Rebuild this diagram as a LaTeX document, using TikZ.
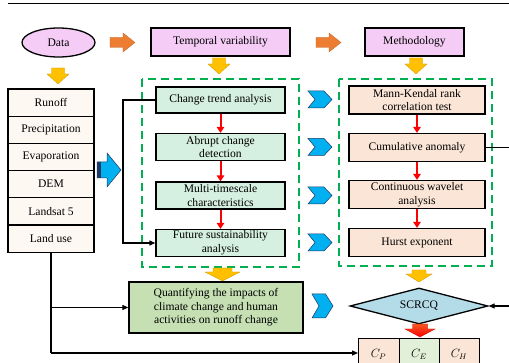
\documentclass[tikz,border=0pt]{standalone}
\usepackage{fontspec}
\setmainfont{Liberation Serif}
\usetikzlibrary{shapes.geometric,arrows.meta}
\definecolor{pinkf}{HTML}{F5CCF5}
\definecolor{creamf}{HTML}{FDF8F1}
\definecolor{mintf}{HTML}{D5EFE0}
\definecolor{peachf}{HTML}{FBE5D6}
\definecolor{olivef}{HTML}{C6E0B4}
\definecolor{skyf}{HTML}{B4DCE8}
\definecolor{lgreenf}{HTML}{E2F0D9}
\definecolor{dashg}{HTML}{00B050}
\definecolor{oarrow}{HTML}{ED7D31}
\definecolor{yarrow}{HTML}{FFC000}
\definecolor{barrow}{HTML}{00B0F0}
\definecolor{bdark}{HTML}{1F3864}
\tikzset{
  txt/.style={font=\fontsize{11.6}{13.6}\selectfont, align=center, inner sep=0pt},
  box/.style={txt, draw=black, line width=1.3pt, rectangle},
  dashbox/.style={draw=dashg, line width=2pt, dash pattern=on 8pt off 5pt},
  redarr/.style={draw=red, line width=2pt, -{Triangle[length=6pt,width=7.5pt]}, shorten >=0pt},
  blk/.style={draw=black, line width=1.1pt},
  blkarr/.style={blk, -{Triangle[length=6pt,width=5pt]}},
  orgarrow/.pic={\path[fill=oarrow, draw=oarrow!80!black, line width=0.3pt]
      (0,-5)--(13,-5)--(13,-9.5)--(25,0)--(13,9.5)--(13,5)--(0,5)--cycle;},
  ydown/.pic={\path[fill=yarrow, draw=yarrow!80!black, line width=0.3pt]
      (-6.5,0)--(6.5,0)--(6.5,6)--(11,6)--(0,16)--(-11,6)--(-6.5,6)--cycle;},
  ywide/.pic={\path[fill=yarrow, draw=yarrow!80!black, line width=0.3pt]
      (-9.5,0)--(9.5,0)--(9.5,4)--(17.5,4)--(0,13)--(-17.5,4)--(-9.5,4)--cycle;},
  ywidesm/.pic={\path[fill=yarrow, draw=yarrow!80!black, line width=0.3pt]
      (-7,0)--(7,0)--(7,4)--(13,4)--(0,12)--(-13,4)--(-7,4)--cycle;},
  rdown/.pic={\path[top color=oarrow!70!red, bottom color=red, draw=red!80!black, line width=0.3pt]
      (-7.5,0)--(7.5,0)--(7.5,5)--(15,5)--(0,13)--(-15,5)--(-7.5,5)--cycle;},
  chev/.pic={\path[fill=barrow, draw=bdark, line width=0.5pt]
      (-12,-8.5)--(4,-8.5)--(12,0)--(4,8.5)--(-12,8.5)--(-5,0)--cycle;},
  chevbig/.pic={\path[fill=barrow, draw=bdark, line width=0.5pt]
      (-10.5,-12)--(3,-12)--(10.5,0)--(3,12)--(-10.5,12)--(-3.5,0)--cycle;},
}
\begin{document}
\begin{tikzpicture}[x=1pt,y=-1pt]
\useasboundingbox (0,0) rectangle (509,363);
\fill[white] (0,0) rectangle (509,363);
\draw[line width=0.8pt] (8,3) -- (509,3);

% top row
\node[txt, ellipse, draw=black, line width=1.3pt, fill=pinkf, minimum width=73pt, minimum height=29pt] (data) at (58.5,42.5) {Data};
\node[box, fill=pinkf, minimum width=139pt, minimum height=28pt] (temp) at (220.5,42) {Temporal variability};
\node[box, fill=pinkf, minimum width=99pt, minimum height=28pt] (meth) at (414.5,42) {Methodology};
\pic at (110,42.5) {orgarrow};
\pic at (316,42.5) {orgarrow};
\pic at (58,68) {ydown};
\pic at (219,58) {ydown};
\pic at (416,58) {ydown};

% data list
\foreach \t [count=\i] in {Runoff,Precipitation,Evaporation,DEM,Landsat 5,Land use}{
  \node[box, fill=creamf, minimum width=86pt, minimum height=27.2pt] (d\i) at (51,{89+27.2*(\i-0.5)}) {\t};
}
% blue block arrow
\path[fill=barrow, draw=bdark, line width=0.5pt] (97,162)--(107,162)--(107,153)--(121,170)--(107,187)--(107,178)--(97,178)--cycle;
\fill[bdark] (97,162) rectangle (101,178);

% dashed groups
\draw[dashbox] (142,79) rectangle (299,267);
\draw[dashbox] (339,79) rectangle (492,266);

% left analyses
\node[box, fill=mintf, minimum width=129pt, minimum height=26pt] (l1) at (220.5,100) {Change trend analysis};
\node[box, fill=mintf, minimum width=129pt, minimum height=27pt] (l2) at (220.5,147) {Abrupt change\\detection};
\node[box, fill=mintf, minimum width=129pt, minimum height=27pt] (l3) at (220.5,195.5) {Multi-timescale\\characteristics};
\node[box, fill=mintf, minimum width=129pt, minimum height=27pt] (l4) at (220.5,243) {Future sustainability\\analysis};
\draw[redarr] (l1.south) -- (l2.north);
\draw[redarr] (l2.south) -- (l3.north);
\draw[redarr] (l3.south) -- (l4.north);

% right methods
\node[box, fill=peachf, minimum width=136pt, minimum height=28pt] (r1) at (417,100) {Mann-Kendal rank\\correlation test};
\node[box, fill=peachf, minimum width=136pt, minimum height=28pt] (r2) at (417,147.5) {Cumulative anomaly};
\node[box, fill=peachf, minimum width=136pt, minimum height=28pt] (r3) at (417,194.5) {Continuous wavelet\\analysis};
\node[box, fill=peachf, minimum width=136pt, minimum height=28pt] (r4) at (417,242.5) {Hurst exponent};
\draw[redarr] (r1.south) -- (r2.north);
\draw[redarr] (r2.south) -- (r3.north);
\draw[redarr] (r3.south) -- (r4.north);

% chevrons
\pic at (320,99.5) {chev};
\pic at (320,147) {chev};
\pic at (320,195.5) {chev};
\pic at (320,242.5) {chev};
\pic at (322.5,306) {chevbig};

% loop line
\coordinate (lx1) at (123,100);
\coordinate (lx2) at (123,243);
\draw[blkarr] (l1.west) -- (lx1) -- (lx2) -- (l4.west);

% bottom row
\pic at (222.5,268) {ywide};
\pic at (419,270) {ywidesm};
\node[box, fill=olivef, minimum width=174pt, minimum height=51pt] (quant) at (216,307.5) {Quantifying the impacts of\\climate change and human\\activities on runoff change};
\node[txt, diamond, draw=black, line width=1.3pt, fill=skyf, minimum width=138pt, minimum height=36pt, aspect=3.8] (scrcq) at (419,306) {SCRCQ};
\pic at (420,324) {rdown};

% C boxes
\node[box, fill=peachf, minimum width=41pt, minimum height=35pt, anchor=north west] (cp) at (358,338) {};
\node[box, fill=lgreenf, minimum width=40pt, minimum height=35pt, anchor=north west] (ce) at (399,338) {};
\node[box, fill=peachf, minimum width=40pt, minimum height=35pt, anchor=north west] (ch) at (439,338) {};
\node[txt] (cpt) at (378.5,354.5) {$C_P$};
\node[txt] (cet) at (419,354.5) {$C_E$};
\node[txt] (cht) at (459,354.5) {$C_H$};

% right-side connectors
\coordinate (rx1) at (509,147.5);
\coordinate (rx2) at (509,306);
\draw[blk] (r2.east) -- (rx1);
\draw[blkarr] (rx2) -- (scrcq.east);

% land use connectors
\coordinate (b1) at (51,307.5);
\coordinate (b2) at (51,353);
\draw[blk] (d6.south) -- (b2);
\draw[blkarr] (b1) -- (quant.west);
\draw[blkarr] (b2) -- (b2 -| cp.west);
\end{tikzpicture}
\end{document}
